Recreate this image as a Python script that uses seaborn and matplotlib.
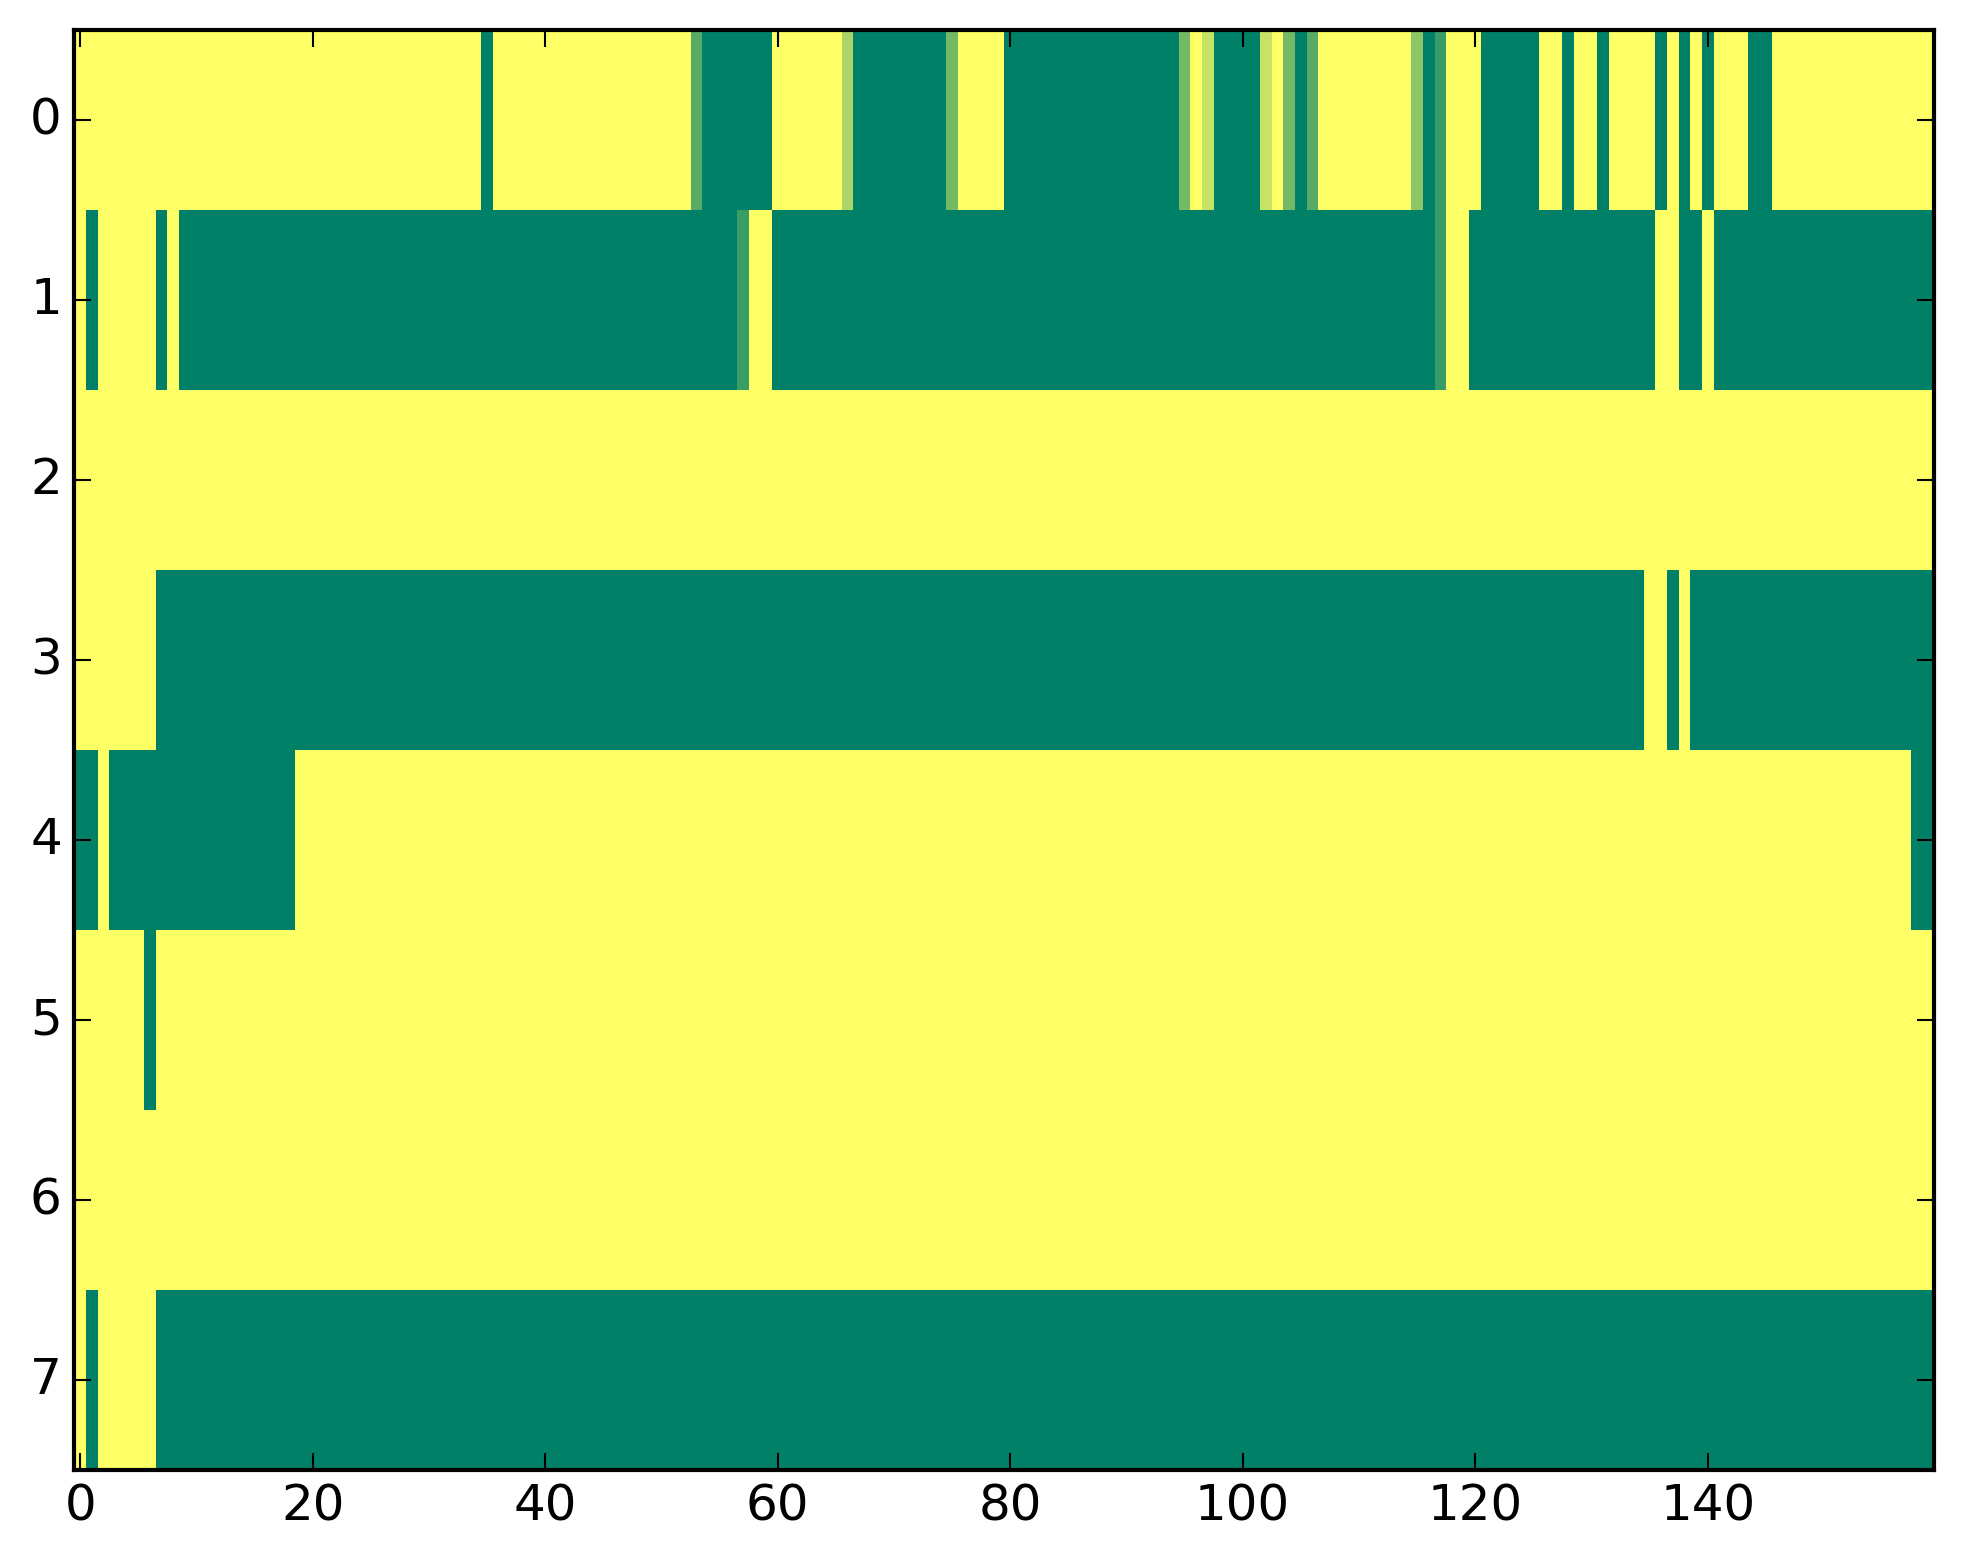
import matplotlib
matplotlib.use("Agg")
import matplotlib.pyplot as plt
import seaborn as sns
import numpy as np

# ── Data: each row as (value, run length) ──
row0 = [(1, 35), (0, 1), (1, 17), (0.34, 1), (0, 6), (1, 6), (0.67, 1), (0, 8),
        (0.45, 1), (1, 4), (0, 15), (0.45, 1), (1, 1), (0.78, 1), (0, 4), (0.78, 1),
        (1, 1), (0.45, 1), (0, 1), (0.34, 1), (1, 8), (0.55, 1), (0, 1), (0.22, 1),
        (1, 3), (0, 5), (1, 2), (0, 1), (1, 2), (0, 1), (1, 4), (0, 1), (1, 1),
        (0, 1), (1, 1), (0, 1), (1, 3), (0, 2), (1, 14)]
row1 = [(1, 1), (0, 1), (1, 5), (0, 1), (1, 1), (0, 48), (0.22, 1), (1, 2),
        (0, 57), (0.22, 1), (1, 2), (0, 16), (1, 2), (0, 2), (1, 1), (0, 19)]
row2 = [(1, 160)]
row3 = [(1, 7), (0, 128), (1, 2), (0, 1), (1, 1), (0, 21)]
row4 = [(0, 2), (1, 1), (0, 16), (1, 139), (0, 2)]
row5 = [(1, 6), (0, 1), (1, 153)]
row6 = [(1, 160)]
row7 = [(1, 1), (0, 1), (1, 5), (0, 153)]

rows = [row0, row1, row2, row3, row4, row5, row6, row7]
x_ticks = [0, 20, 40, 60, 80, 100, 120, 140]
y_ticks = [0, 1, 2, 3, 4, 5, 6, 7]


def expand(runs):
    vals = [v for v, _ in runs]
    counts = [n for _, n in runs]
    return np.repeat(vals, counts)


data = np.vstack([expand(r) for r in rows])

plt.style.use("classic")
fig, ax = plt.subplots(figsize=(8, 6))
sns.heatmap(data, cmap="summer", vmin=0, vmax=1, cbar=False, ax=ax,
            linewidths=0, rasterized=True)

# heatmap strips the frame; put the classic box back
for side in ["left", "right", "top", "bottom"]:
    ax.spines[side].set_visible(True)
    ax.spines[side].set_linewidth(1.0)
    ax.spines[side].set_color("black")

ax.set_xticks([t + 0.5 for t in x_ticks])
ax.set_xticklabels([str(t) for t in x_ticks], rotation=0)
ax.set_yticks([t + 0.5 for t in y_ticks])
ax.set_yticklabels([str(t) for t in y_ticks], rotation=0, va="center")
ax.tick_params(direction="in", top=True, right=True, bottom=True, left=True,
               length=4, width=0.5, labelsize=12, pad=3)
ax.set_xlabel("")
ax.set_ylabel("")

plt.savefig("out.png", dpi=300, bbox_inches="tight", facecolor="white")
